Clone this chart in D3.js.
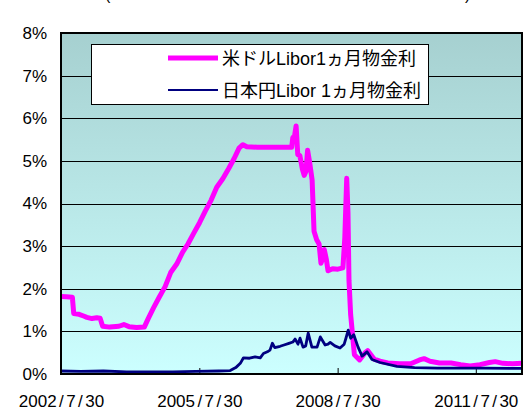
<!DOCTYPE html>
<html>
<head>
<meta charset="utf-8">
<script src="https://cdn.jsdelivr.net/npm/d3@7"></script>
<style>
  body { margin: 0; background: #fff; }
  svg { display: block; }
  text { font-family: "Liberation Sans", Arial, "Noto Sans CJK JP", sans-serif; fill: #000; }
</style>
</head>
<body>
<svg id="chart"></svg>
<script>
// USD Libor 1M
const usdData = [
  ["2002-07-30",1.82],["2002-09-10",1.81],["2002-10-28",1.80],["2002-11-08",1.42],["2002-12-20",1.40],
  ["2003-01-25",1.36],["2003-02-20",1.33],["2003-04-01",1.30],["2003-05-10",1.32],["2003-06-05",1.31],
  ["2003-06-25",1.12],["2003-08-20",1.10],["2003-11-01",1.12],["2003-12-10",1.16],["2004-01-20",1.11],
  ["2004-03-20",1.09],["2004-05-20",1.10],["2004-06-20",1.30],["2004-08-01",1.55],["2004-09-15",1.80],
  ["2004-11-01",2.05],["2004-12-15",2.38],["2005-02-01",2.58],["2005-03-20",2.86],["2005-05-01",3.05],
  ["2005-06-15",3.30],["2005-08-01",3.55],["2005-09-15",3.82],["2005-11-01",4.08],["2005-12-15",4.38],
  ["2006-02-01",4.58],["2006-03-20",4.82],["2006-05-01",5.05],["2006-06-10",5.30],["2006-07-10",5.38],
  ["2006-08-10",5.33],["2006-11-01",5.32],["2007-02-01",5.32],["2007-05-01",5.32],["2007-08-01",5.32],
  ["2007-08-10",5.55],["2007-08-22",5.55],["2007-09-05",5.82],["2007-09-18",5.15],["2007-10-05",5.12],
  ["2007-10-25",4.80],["2007-11-08",4.66],["2007-11-22",4.75],["2007-12-05",5.25],["2007-12-22",4.95],
  ["2008-01-10",4.55],["2008-01-25",3.35],["2008-02-15",3.15],["2008-03-05",3.05],["2008-03-20",2.60],
  ["2008-04-01",2.70],["2008-04-15",2.92],["2008-05-01",2.70],["2008-05-15",2.42],["2008-06-20",2.47],
  ["2008-08-01",2.46],["2008-09-10",2.49],["2008-09-25",3.20],["2008-10-10",4.59],["2008-10-20",3.80],
  ["2008-10-28",2.20],["2008-11-10",1.40],["2008-12-10",0.45],["2009-01-20",0.33],["2009-03-05",0.50],
  ["2009-03-25",0.55],["2009-05-15",0.35],["2009-07-01",0.30],["2009-09-01",0.26],["2009-12-01",0.24],
  ["2010-03-01",0.24],["2010-05-10",0.33],["2010-06-15",0.36],["2010-08-01",0.30],["2010-10-15",0.26],
  ["2011-01-15",0.26],["2011-04-01",0.22],["2011-06-15",0.19],["2011-09-01",0.22],["2011-11-15",0.27],
  ["2011-12-31",0.29],["2012-03-01",0.25],["2012-05-15",0.24],["2012-07-30",0.25]
];

// JPY Libor 1M
const jpyData = [
  ["2002-07-30",0.07],["2003-01-01",0.06],["2003-07-01",0.07],["2004-01-01",0.05],["2004-07-01",0.05],
  ["2005-01-01",0.05],["2005-07-01",0.06],["2006-01-01",0.07],["2006-04-01",0.08],["2006-05-15",0.15],
  ["2006-06-20",0.25],["2006-07-15",0.38],["2006-09-01",0.37],["2006-10-15",0.40],["2006-11-25",0.38],
  ["2006-12-20",0.48],["2007-01-20",0.52],["2007-02-10",0.56],["2007-03-01",0.72],["2007-03-20",0.62],
  ["2007-05-01",0.65],["2007-06-01",0.68],["2007-07-10",0.72],["2007-08-10",0.75],["2007-08-28",0.82],
  ["2007-09-20",0.70],["2007-10-06",0.84],["2007-10-30",0.63],["2007-11-20",0.66],["2007-12-10",0.96],
  ["2008-01-08",0.63],["2008-02-18",0.63],["2008-03-15",0.87],["2008-04-22",0.68],["2008-05-15",0.70],
  ["2008-06-01",0.74],["2008-07-08",0.66],["2008-08-18",0.61],["2008-09-20",0.70],["2008-10-05",0.85],
  ["2008-10-22",1.03],["2008-11-10",0.84],["2008-12-05",0.92],["2009-01-08",0.63],["2009-02-09",0.42],
  ["2009-03-20",0.52],["2009-04-28",0.34],["2009-07-01",0.27],["2009-11-12",0.18],["2010-04-01",0.15],
  ["2010-10-01",0.14],["2011-04-01",0.14],["2011-10-01",0.14],["2012-07-30",0.13]
];

const seriesNames = ["米ドルLibor1ヵ月物金利", "日本円Libor 1ヵ月物金利"];
const seriesColors = ["#ff00ff", "#000080"];
const yTicks = [0, 1, 2, 3, 4, 5, 6, 7, 8];
const xTickDates = ["2002-07-30", "2005-07-30", "2008-07-30", "2011-07-30"];
const xDomain = ["2002-07-30", "2012-07-30"];

const WIDTH = 525;
const HEIGHT = 410;
const plot = { left: 61, right: 522, top: 33, bottom: 374 };

const parse = d3.timeParse("%Y-%m-%d");
const usd = usdData.map(d => ({ date: parse(d[0]), value: d[1] }));
const jpy = jpyData.map(d => ({ date: parse(d[0]), value: d[1] }));

let svg = d3.select('#chart')
    .attr('width', WIDTH)
    .attr('height', HEIGHT);

let xScale = d3.scaleTime()
    .domain(xDomain.map(parse))
    .range([plot.left, plot.right]);

let yScale = d3.scaleLinear()
    .domain([0, 8])
    .range([plot.bottom, plot.top]);

// background gradient
let grad = svg.append('defs').append('linearGradient')
    .attr('id', 'bg')
    .attr('x1', 0).attr('y1', 0).attr('x2', 0).attr('y2', 1);
grad.append('stop').attr('offset', '0%').attr('stop-color', '#a6d0d0');
grad.append('stop').attr('offset', '100%').attr('stop-color', '#ccffff');

svg.append('rect')
    .attr('x', plot.left)
    .attr('y', plot.top)
    .attr('width', plot.right - plot.left)
    .attr('height', plot.bottom - plot.top)
    .attr('fill', 'url(#bg)');

// title, cut off at the top edge in the original
svg.append('text').attr('x', 105).attr('y', 0).style('font-size', '16px').text('(');
svg.append('text').attr('x', 465).attr('y', 0).style('font-size', '16px').text(')');

// gridlines
svg.append('g')
    .selectAll('line')
    .data(yTicks.slice(1, -1))
    .enter().append('line')
    .attr('x1', plot.left)
    .attr('x2', plot.right)
    .attr('y1', d => Math.round(yScale(d)) + 0.5)
    .attr('y2', d => Math.round(yScale(d)) + 0.5)
    .attr('stroke', '#000')
    .attr('stroke-width', 1);

// y axis labels
let yAxis = d3.axisLeft(yScale)
    .tickValues(yTicks)
    .tickSize(0)
    .tickPadding(14)
    .tickFormat(d => d);
let yg = svg.append('g')
    .attr('transform', `translate(${plot.left}, 0)`)
    .call(yAxis);
yg.select('.domain').remove();
yg.selectAll('text')
    .style('font-size', '17px')
    .style('font-family', '"Liberation Sans", Arial, sans-serif')
    .append('tspan')
    .style('font-family', '"Liberation Sans Narrow", "Liberation Sans", sans-serif')
    .text('%');

// x axis
let xAxis = d3.axisBottom(xScale)
    .tickValues(xTickDates.map(parse))
    .tickSize(0)
    .tickPadding(0)
    .tickFormat(d3.timeFormat("%Y/%-m/%d"));
let xg = svg.append('g')
    .attr('transform', `translate(0, ${plot.bottom})`)
    .call(xAxis);
xg.select('.domain').remove();
xg.selectAll('text')
    .style('font-size', '17px')
    .attr('y', 33)
    .attr('dy', 0)
    .each(function(d) {
        let parts = d3.timeFormat("%Y/%-m/%d")(d).split('/');
        let t = d3.select(this).text(null);
        parts.forEach((p, i) => {
            if (i > 0) t.append('tspan').attr('dx', 2.4).text('/');
            t.append('tspan').attr('dx', i > 0 ? 2.4 : 0).text(p);
        });
    });
// inward ticks
xg.selectAll('.tick').append('line')
    .attr('y1', 0)
    .attr('y2', -6)
    .attr('stroke', '#000')
    .attr('stroke-width', 1);

// lines
let line = d3.line()
    .x(d => xScale(d.date))
    .y(d => yScale(d.value));

svg.append('path')
    .datum(usd)
    .attr('d', line)
    .attr('fill', 'none')
    .attr('stroke', seriesColors[0])
    .attr('stroke-width', 5)
    .attr('stroke-linejoin', 'round');

svg.append('path')
    .datum(jpy)
    .attr('d', line)
    .attr('fill', 'none')
    .attr('stroke', seriesColors[1])
    .attr('stroke-width', 2.8)
    .attr('stroke-linejoin', 'round');

// plot border
svg.append('rect')
    .attr('x', plot.left)
    .attr('y', plot.top)
    .attr('width', plot.right - plot.left)
    .attr('height', plot.bottom - plot.top)
    .attr('fill', 'none')
    .attr('stroke', '#000')
    .attr('stroke-width', 2);

// legend
let legend = svg.append('g');
legend.append('rect')
    .attr('x', 91.5)
    .attr('y', 44.5)
    .attr('width', 337)
    .attr('height', 60)
    .attr('fill', '#fff')
    .attr('stroke', '#000')
    .attr('stroke-width', 1);

seriesNames.forEach((name, i) => {
    let y = 58 + i * 32;
    legend.append('line')
        .attr('x1', 168)
        .attr('x2', 218)
        .attr('y1', y)
        .attr('y2', y)
        .attr('stroke', seriesColors[i])
        .attr('stroke-width', i === 0 ? 5 : 2);
    legend.append('text')
        .attr('x', 222)
        .attr('y', y + 6.5)
        .style('font-size', '18px')
        .text(name);
});
</script>
</body>
</html>
